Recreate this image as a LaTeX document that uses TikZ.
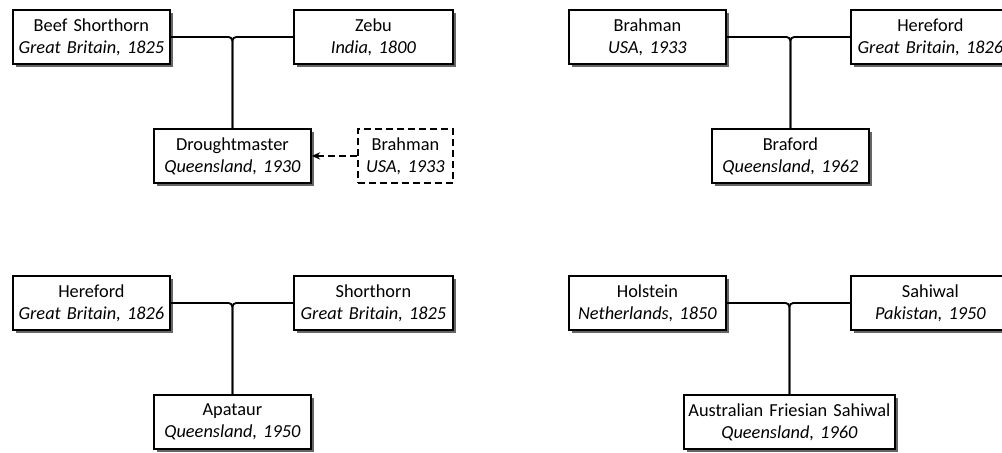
\documentclass[tikz,border=0pt]{standalone}
\usepackage{fontspec}
\setmainfont{Carlito}[WordSpace=0.8]
\usetikzlibrary{arrows.meta,positioning,shadows}
\tikzset{
  brd/.style  = {draw, line width=1.1pt, fill=white, align=center, inner sep=0pt,
                 minimum height=32.4pt, text width=94.2pt,
                 font=\fontsize{11}{13.2}\selectfont,
                 drop shadow={shadow xshift=2pt, shadow yshift=-2pt,
                              fill=black!60, opacity=1}},
  brdw/.style = {brd, text width=95.4pt},
  brdx/.style = {draw, line width=1.1pt, dash pattern=on 4.2pt off 2.4pt,
                 fill=white, align=center, inner sep=0pt,
                 minimum height=32.4pt, text width=57pt,
                 font=\fontsize{11}{13.2}\selectfont},
  lnk/.style  = {line width=1.1pt, rounded corners=2.4pt},
  arx/.style  = {line width=1.1pt, dash pattern=on 4.2pt off 2.4pt,
                 -{Stealth[length=5pt,width=4.4pt]}}
}

\begin{document}
\begin{tikzpicture}[x=0.6pt, y=-0.6pt]
\useasboundingbox (0,0) rectangle (1002,452);
\clip (0,0) rectangle (1002,452);

% ---------------- Droughtmaster ----------------
\node[brd, anchor=north west] (bsh) at (12, 9)
      {Beef Shorthorn\\ \textit{Great Britain, 1825}};
\node[brdw, anchor=north west] (zebu) at (293, 9)
      {Zebu\\ \textit{India, 1800}};
\node[brd, anchor=north west] (dmst) at (153, 128)
      {Droughtmaster\\ \textit{Queensland, 1930}};
\node[brdx, anchor=north west] (brah1) at (357, 128)
      {Brahman\\ \textit{USA, 1933}};

% ---------------- Braford ----------------
\node[brd, anchor=north west] (brah2) at (568, 9)
      {Brahman\\ \textit{USA, 1933}};
\node[brdw, anchor=north west] (here1) at (850, 9)
      {Hereford\\ \textit{Great Britain, 1826}};
\node[brd, anchor=north west] (brfd) at (711, 128)
      {Braford\\ \textit{Queensland, 1962}};

% ---------------- Apataur ----------------
\node[brd, anchor=north west] (here2) at (12, 275)
      {Hereford\\ \textit{Great Britain, 1826}};
\node[brdw, anchor=north west] (shrt) at (293, 275)
      {Shorthorn\\ \textit{Great Britain, 1825}};
\node[brd, anchor=north west] (apat) at (153, 394)
      {Apataur\\ \textit{Queensland, 1950}};

% ---------------- Australian Friesian Sahiwal ----------------
\node[brd, anchor=north west] (hols) at (568, 275)
      {Holstein\\ \textit{Netherlands, 1850}};
\node[brdw, anchor=north west] (sahi) at (850, 275)
      {Sahiwal\\ \textit{Pakistan, 1950}};
\node[brd, anchor=north west, text width=126.6pt] (afs) at (683, 394)
      {Australian Friesian Sahiwal\\ \textit{Queensland, 1960}};

% ---------------- links ----------------
\draw[lnk] (bsh.east) -| (dmst.north);
\draw[lnk] (zebu.west) -| (dmst.north);
\draw[arx] (brah1.west) -- (dmst.east);

\draw[lnk] (brah2.east) -| (brfd.north);
\draw[lnk] (here1.west) -| (brfd.north);

\draw[lnk] (here2.east) -| (apat.north);
\draw[lnk] (shrt.west) -| (apat.north);

\draw[lnk] (hols.east) -| (afs.north);
\draw[lnk] (sahi.west) -| (afs.north);

\end{tikzpicture}
\end{document}
